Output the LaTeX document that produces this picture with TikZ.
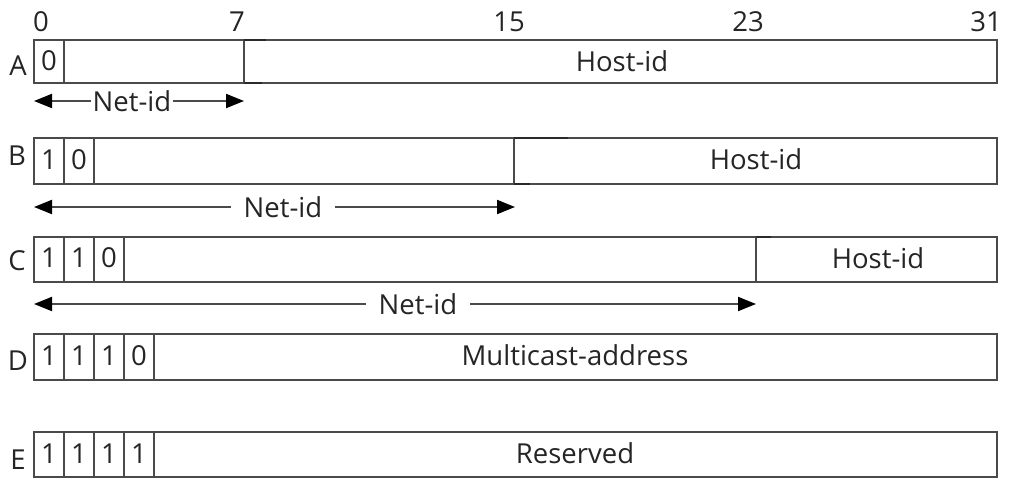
\documentclass[tikz,border=0pt]{standalone}
\usepackage{fontspec}
\setmainfont{Open Sans}
\usetikzlibrary{arrows.meta}
\definecolor{linec}{HTML}{4A4A4A}
\definecolor{flagc}{HTML}{2A2A2A}
\definecolor{txt}{HTML}{252525}
\tikzset{
  box/.style={draw=linec, line width=1.7pt},
  flag/.style={draw=flagc, line width=2.1pt},
  lbl/.style={font=\fontsize{27.5}{30}\selectfont, text=txt, inner sep=0pt},
  arr/.style={-{Triangle[length=18pt,width=14pt,color=black]}, line width=2pt, draw=linec},
}
\begin{document}
\begin{tikzpicture}[x=1pt,y=-1pt]
\useasboundingbox (0,0) rectangle (1034,488);
% bit numbers
\node[lbl] (n0)  at (41,22)  {0};
\node[lbl] (n7)  at (237,22) {7};
\node[lbl] (n15) at (509,22) {15};
\node[lbl] (n23) at (748,22) {23};
\node[lbl] (n31) at (986,22) {31};
% row A
\draw[box] (34,40) rectangle (997,83);
\draw[box] (64,40) -- (64,83);
\draw[box] (244,40) -- (244,83);
\draw[flag] (244,40) -- (266,40) (244,83) -- (262,83);
\node[lbl] (la) at (18,66) {A};
\node[lbl] (a0) at (49,61) {0};
\node[lbl] (ah) at (622,61) {Host-id};
\coordinate (aL) at (34,101);
\coordinate (aR) at (244,101);
\node[lbl, inner xsep=2pt] (an) at (132,101) {Net-id};
\draw[arr] (an.west) -- (aL);
\draw[arr] (an.east) -- (aR);
% row B
\draw[box] (34,138) rectangle (997,184);
\foreach \x in {64,94} \draw[box] (\x,138) -- (\x,184);
\draw[box] (514,138) -- (514,184);
\draw[flag] (514,138) -- (568,138) (514,184) -- (530,184);
\node[lbl] (lb) at (17,156) {B};
\node[lbl] (b0) at (49,160) {1};
\node[lbl] (b1) at (79,160) {0};
\node[lbl] (bh) at (756,159) {Host-id};
\coordinate (bL) at (34,207);
\coordinate (bR) at (515,207);
\node[lbl, inner xsep=13pt] (bn) at (283,207) {Net-id};
\draw[arr] (bn.west) -- (bL);
\draw[arr] (bn.east) -- (bR);
% row C
\draw[box] (34,237) rectangle (997,282);
\foreach \x in {64,94,124} \draw[box] (\x,237) -- (\x,282);
\draw[box] (756,237) -- (756,282);
\draw[flag] (756,237) -- (771,237);
\node[lbl] (lc) at (17,261) {C};
\node[lbl] (c0) at (49,258) {1};
\node[lbl] (c1) at (79,258) {1};
\node[lbl] (c2) at (109,258) {0};
\node[lbl] (ch) at (878,258) {Host-id};
\coordinate (cL) at (34,304);
\coordinate (cR) at (756,304);
\node[lbl, inner xsep=13pt] (cn) at (418,304) {Net-id};
\draw[arr] (cn.west) -- (cL);
\draw[arr] (cn.east) -- (cR);
% row D
\draw[box] (34,334) rectangle (997,380);
\foreach \x in {64,94,124,154} \draw[box] (\x,334) -- (\x,380);
\node[lbl] (ld) at (18,361) {D};
\node[lbl] (d0) at (49,356) {1};
\node[lbl] (d1) at (79,356) {1};
\node[lbl] (d2) at (109,356) {1};
\node[lbl] (d3) at (139,356) {0};
\node[lbl] (dh) at (575,355) {Multicast-address};
% row E
\draw[box] (34,432) rectangle (997,477);
\foreach \x in {64,94,124,154} \draw[box] (\x,432) -- (\x,477);
\node[lbl] (le) at (18,460) {E};
\node[lbl] (e0) at (49,454) {1};
\node[lbl] (e1) at (79,454) {1};
\node[lbl] (e2) at (109,454) {1};
\node[lbl] (e3) at (139,454) {1};
\node[lbl] (eh) at (575,453) {Reserved};
\end{tikzpicture}
\end{document}
